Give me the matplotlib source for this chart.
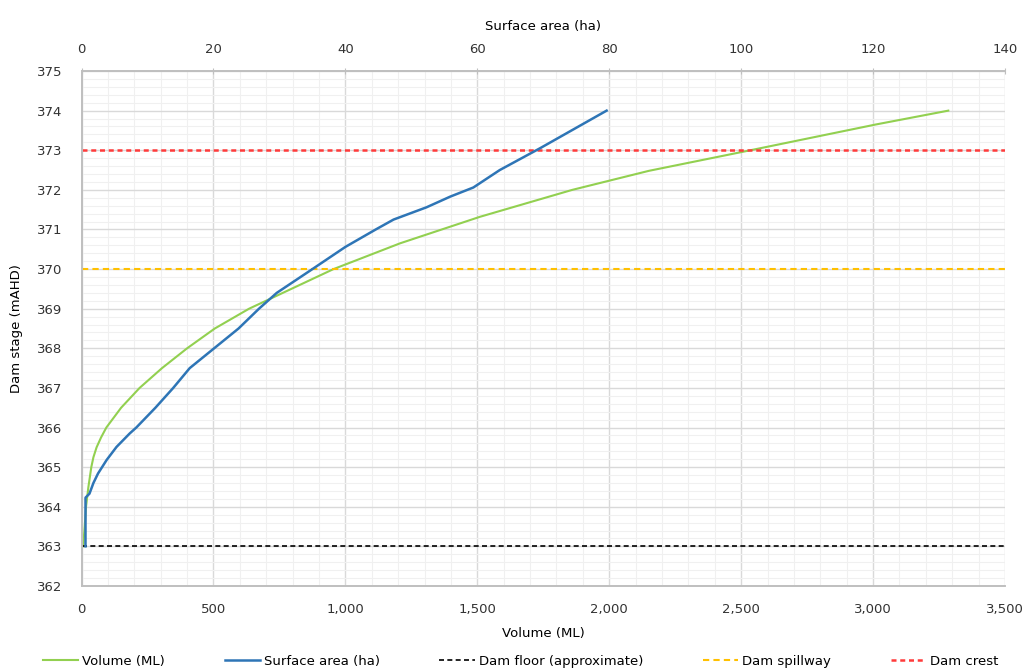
import numpy as np
import matplotlib
matplotlib.use("Agg")
import matplotlib.pyplot as plt
from matplotlib.ticker import MultipleLocator, FuncFormatter

# Volume curve (ML) against dam stage (mAHD)
stage_vol = [363.0, 363.5, 364.0, 364.5, 365.0, 365.25, 365.5, 365.75, 366.0, 366.5,
             367.0, 367.5, 368.0, 368.5, 369.0, 369.5, 370.0, 370.65, 371.32, 372.0,
             372.48, 373.0, 373.65, 374.0]
volume = [6, 12, 17, 26, 37, 45, 57, 74, 94, 150,
          220, 305, 400, 505, 635, 795, 955, 1207, 1510, 1860,
          2150, 2535, 3010, 3285]

# Surface area curve (ha) against dam stage (mAHD)
stage_area = [363.0, 364.23, 364.33, 364.6, 364.84, 365.18, 365.51, 365.85, 366.0,
              366.5, 367.0, 367.5, 368.0, 368.5, 369.0, 369.4, 369.7, 370.0,
              370.56, 371.0, 371.25, 371.56, 371.83, 372.06, 372.5, 373.05, 374.0]
area = [0.6, 0.6, 1.2, 1.8, 2.5, 3.8, 5.3, 7.3, 8.3,
        11.2, 13.9, 16.4, 20.1, 23.8, 26.9, 29.6, 32.3, 35.0,
        40.0, 44.6, 47.3, 52.3, 55.9, 59.4, 63.4, 69.5, 79.6]

floor_level = 363
spillway_level = 370
crest_level = 373

green = "#92d050"
blue = "#2e75b6"
yellow = "#ffc000"
red = "#ff3b3b"
grey = "#bfbfbf"

plt.rcParams['font.family'] = ['DejaVu Sans']
plt.rcParams['font.size'] = 9.5

fig = plt.figure(figsize=(10.27, 6.72), dpi=100)
ax = fig.add_axes([0.0794, 0.128, 0.8992, 0.7663])

ax.set_xlim(0, 3500)
ax.set_ylim(362, 375)
ax.xaxis.set_major_locator(MultipleLocator(500))
ax.xaxis.set_minor_locator(MultipleLocator(100))
ax.yaxis.set_major_locator(MultipleLocator(1))
ax.yaxis.set_minor_locator(MultipleLocator(0.2))
ax.xaxis.set_major_formatter(FuncFormatter(lambda v, p: f"{int(v):,}"))
ax.grid(which='major', color='#d9d9d9', lw=1.0)
ax.grid(which='minor', color='#f0f0f0', lw=0.8)
ax.set_axisbelow(True)
ax.tick_params(which='both', length=0, colors='#333333')
ax.tick_params(axis='x', pad=12)
ax.tick_params(axis='y', pad=14)

l1, = ax.plot(volume, stage_vol, color=green, lw=1.5, label="Volume (ML)")
l3 = ax.axhline(floor_level, color='black', lw=1.2, dashes=(3, 2),
                label="Dam floor (approximate)")
l4 = ax.axhline(spillway_level, color=yellow, lw=1.5, dashes=(3, 2),
                label="Dam spillway")
l5 = ax.axhline(crest_level, color=red, lw=1.8, dashes=(2, 1.5),
                label="Dam crest")

ax2 = ax.twiny()
ax2.set_xlim(0, 140)
ax2.xaxis.set_major_locator(MultipleLocator(20))
l2, = ax2.plot(area, stage_area, color=blue, lw=1.8, label="Surface area (ha)")
ax2.tick_params(axis='x', direction='inout', length=5, color=grey,
                labelcolor='#333333', pad=8)

for a in (ax, ax2):
    for side in ('left', 'bottom', 'top'):
        a.spines[side].set_color(grey)
        a.spines[side].set_linewidth(1.2)
    a.spines['right'].set_visible(False)

ax.set_xlabel("Volume (ML)", labelpad=8)
ax.set_ylabel("Dam stage (mAHD)", labelpad=10)
ax2.set_xlabel("Surface area (ha)", labelpad=10)

fig.legend(handles=[l1, l2, l3, l4, l5], loc='center', ncol=5,
           bbox_to_anchor=(0.507, 0.016), frameon=False,
           handlelength=2.7, handletextpad=0.3, columnspacing=4.5)

fig.savefig("out.png", dpi=100)
